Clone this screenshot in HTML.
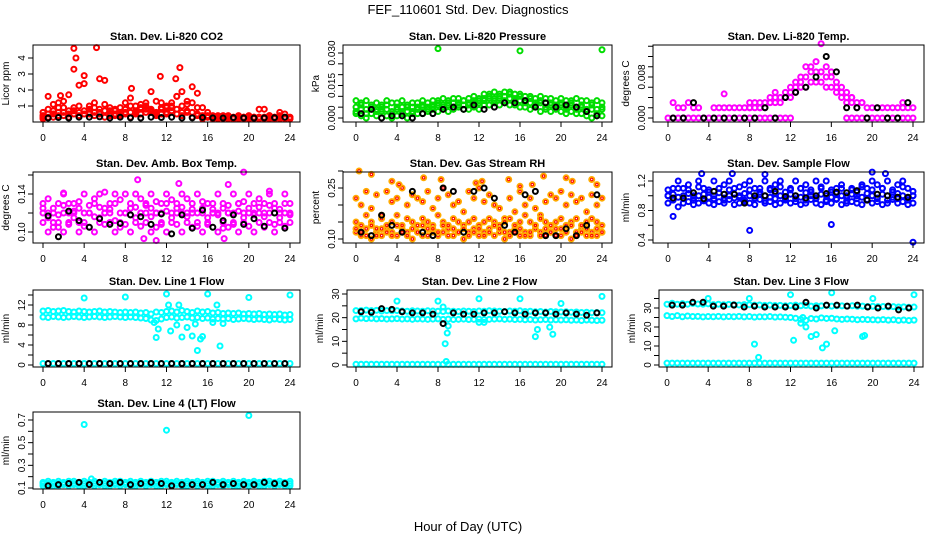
<!DOCTYPE html>
<html><head><meta charset="utf-8"><style>
body{margin:0;background:#fff;}
svg{display:block;font-family:"Liberation Sans",sans-serif;}
</style></head><body>
<svg id="chart" width="936" height="540" viewBox="0 0 936 540">
<rect x="0" y="0" width="936" height="540" fill="#fff"/>
<text x="468" y="14" font-size="13" text-anchor="middle">FEF_110601  Std. Dev. Diagnostics</text>
<text x="468" y="531" font-size="13" text-anchor="middle">Hour of Day (UTC)</text>
</svg>
<script>
const hours=[0,0.5,1,1.5,2,2.5,3,3.5,4,4.5,5,5.5,6,6.5,7,7.5,8,8.5,9,9.5,10,10.5,11,11.5,12,12.5,13,13.5,14,14.5,15,15.5,16,16.5,17,17.5,18,18.5,19,19.5,20,20.5,21,21.5,22,22.5,23,23.5,24];
const blackHours=[0.5,1.5,2.5,3.5,4.5,5.5,6.5,7.5,8.5,9.5,10.5,11.5,12.5,13.5,14.5,15.5,16.5,17.5,18.5,19.5,20.5,21.5,22.5,23.5];
const xTicks=[0,4,8,12,16,20,24];

// Panel 1 CO2
const co2A=[0.4,1.6,0.7,1.2,1.3,1.7,0.9,2.3,2.4,1.0,1.2,2.7,0.7,0.9,0.8,0.6,1.2,1.5,1.0,1.1,0.8,1.9,0.6,0.9,1.0,1.2,1.6,1.0,1.3,1.2,1.8,0.9,0.6,0.4,0.4,0.3,0.4,0.3,0.4,0.3,0.4,0.3,0.3,0.8,0.4,0.3,0.6,0.5,0.3];
const co2B=[0.3,0.3,0.5,0.6,0.4,0.5,3.3,0.6,2.9,0.5,0.6,0.8,2.6,0.4,0.5,0.5,0.8,0.6,0.7,0.5,0.6,0.8,0.5,1.2,0.9,0.9,1.6,1.9,0.7,2.2,0.5,0.3,0.3,0.3,0.2,0.3,0.3,0.2,0.3,0.3,0.2,0.3,0.3,0.2,0.3,0.3,0.2,0.3,0.2];
const co2C=[0.2,0.5,0.3,0.9,0.6,0.3,0.7,0.4,0.5,0.8,0.4,0.6,0.3,0.5,0.7,0.4,0.5,0.3,0.6,0.8,1.2,0.6,0.4,0.5,0.6,0.7,0.5,0.4,0.6,0.3,0.4,0.2,0.3,0.2,0.3,0.2,0.3,0.2,0.2,0.3,0.2,0.3,0.2,0.3,0.2,0.3,0.4,0.2,0.3];
const co2D=[0.6,0.8,1.1,0.4,0.9,0.7,0.5,1.0,0.7,0.6,0.9,0.5,1.1,0.7,0.4,0.9,0.6,1.0,0.5,0.9,1.0,0.7,1.3,0.8,0.5,1.0,0.8,0.6,1.1,0.6,0.9,0.4,0.4,0.3,0.3,0.4,0.2,0.3,0.3,0.2,0.3,0.2,0.3,0.3,0.4,0.2,0.3,0.3,0.2];
const co2OutX=[3,3.2,5.2,11.4,12.9,13.3,1.7,8.6,21];
const co2OutY=[4.6,4.0,4.65,2.85,2.7,3.4,1.65,2.1,0.8];
const co2Black=[0.25,0.28,0.25,0.3,0.3,0.32,0.25,0.3,0.26,0.25,0.3,0.28,0.3,0.25,0.26,0.28,0.26,0.25,0.27,0.26,0.25,0.26,0.27,0.3];
// Panel 2 Pressure
const presA=[0.008,0.007,0.008,0.006,0.007,0.006,0.008,0.007,0.007,0.008,0.006,0.007,0.007,0.008,0.007,0.008,0.008,0.009,0.008,0.009,0.009,0.008,0.009,0.010,0.009,0.011,0.011,0.012,0.011,0.012,0.012,0.011,0.011,0.010,0.010,0.009,0.010,0.009,0.009,0.008,0.009,0.008,0.008,0.009,0.008,0.008,0.007,0.008,0.007];
const presB=[0.002,0.001,0.000,0.002,0.001,0.003,0.001,0.000,0.001,0.002,0.000,0.003,0.002,0.002,0.003,0.004,0.003,0.004,0.003,0.004,0.005,0.004,0.004,0.005,0.004,0.006,0.006,0.007,0.006,0.007,0.006,0.006,0.005,0.005,0.004,0.005,0.003,0.004,0.003,0.004,0.003,0.002,0.003,0.002,0.002,0.001,0.000,0.001,0.001];
const presC=[0.005,0.004,0.004,0.004,0.004,0.005,0.004,0.003,0.004,0.005,0.003,0.005,0.005,0.005,0.005,0.006,0.006,0.006,0.006,0.007,0.007,0.006,0.007,0.008,0.007,0.009,0.009,0.009,0.009,0.010,0.009,0.009,0.008,0.008,0.007,0.007,0.007,0.007,0.006,0.006,0.006,0.005,0.006,0.005,0.005,0.004,0.004,0.004,0.004];
const presD=[0.003,0.006,0.002,0.005,0.003,0.004,0.006,0.002,0.005,0.003,0.005,0.002,0.004,0.006,0.004,0.005,0.007,0.005,0.007,0.005,0.006,0.008,0.006,0.007,0.008,0.008,0.010,0.008,0.010,0.008,0.011,0.008,0.010,0.007,0.009,0.006,0.008,0.005,0.007,0.005,0.007,0.004,0.007,0.004,0.006,0.003,0.006,0.002,0.005];
const presOutX=[8,16,24];
const presOutY=[0.032,0.031,0.0315];
const presBlack=[0.002,0.004,0.000,0.001,0.001,0.000,0.002,0.002,0.004,0.005,0.004,0.006,0.004,0.005,0.007,0.007,0.008,0.005,0.007,0.005,0.006,0.005,0.003,0.001];
// Panel 3 Li temp
const ltA=[0,0,0,0,0,0,0,0,0,0,0,0,0,0,0,0,0,0,0,0,0,0,0,0,0,null,null,null,null,null,null,null,null,null,null,0,0,0,0,0,0,0,0,0,0,0,0,0,0];
const ltB=[null,0.003,0.002,0.002,0.003,0.002,0.002,null,null,0.002,0.002,0.002,0.002,0.002,0.002,0.002,0.002,0.002,0.002,0.002,0.003,0.003,0.004,0.004,0.005,0.006,0.007,0.008,0.009,0.009,0.009,0.008,0.008,0.006,0.005,0.004,0.004,0.003,0.003,0.002,0.002,0.002,0.002,0.002,0.002,0.002,0.002,0.002,0.002];
const ltC=[null,null,null,null,null,null,null,null,null,null,null,null,null,null,null,null,0.003,null,0.003,null,0.004,0.005,0.004,0.005,0.006,0.007,0.008,0.010,0.010,0.011,0.009,0.010,0.009,0.007,0.006,0.005,0.004,null,0.003,null,null,null,null,null,null,null,0.003,null,null];
const ltD=[null,null,null,null,null,null,null,null,null,null,null,null,null,null,null,null,0.002,0.003,0.002,0.003,0.003,0.004,0.003,0.004,0.004,0.005,0.006,0.006,0.007,0.007,0.007,0.006,0.006,0.005,0.004,0.003,0.003,0.002,null,null,null,null,null,null,null,null,null,null,null];
const ltOutX=[15,5.5];
const ltOutY=[0.0145,0.0047];
const ltBlack=[0,0,0.003,0,0,0,0,0,0,0.002,0,0.004,0.005,0.006,0.008,0.012,0.009,0.002,0.002,0,0.002,0,0,0.003];
// Panel 4 Amb box temp
const abA=[0.13,0.12,0.11,0.13,0.14,0.12,0.13,0.11,0.14,0.12,0.13,0.14,0.12,0.13,0.14,0.12,0.14,0.13,0.14,0.12,0.13,0.14,0.12,0.13,0.14,0.12,0.13,0.14,0.12,0.13,0.14,0.12,0.13,0.12,0.14,0.13,0.12,0.14,0.13,0.12,0.14,0.13,0.12,0.13,0.14,0.13,0.12,0.14,0.13];
const abB=[0.11,0.10,0.12,0.11,0.10,0.11,0.12,0.10,0.11,0.12,0.10,0.11,0.12,0.11,0.10,0.11,0.12,0.10,0.11,0.12,0.11,0.10,0.12,0.11,0.10,0.11,0.12,0.10,0.11,0.12,0.11,0.10,0.11,0.12,0.10,0.11,0.12,0.11,0.10,0.11,0.12,0.10,0.11,0.12,0.11,0.10,0.11,0.12,0.11];
const abC=[0.12,0.115,0.125,0.105,0.12,0.13,0.115,0.125,0.12,0.105,0.135,0.115,0.125,0.12,0.13,0.105,0.12,0.125,0.115,0.135,0.12,0.125,0.105,0.12,0.13,0.115,0.125,0.12,0.135,0.105,0.12,0.125,0.115,0.13,0.12,0.125,0.105,0.12,0.13,0.115,0.125,0.12,0.135,0.105,0.12,0.125,0.115,0.13,0.12];
const abD=[0.125,0.135,0.105,0.118,0.128,0.108,0.122,0.132,0.106,0.128,0.116,0.126,0.108,0.124,0.112,0.134,0.108,0.118,0.126,0.106,0.128,0.116,0.132,0.108,0.122,0.134,0.108,0.126,0.116,0.124,0.106,0.132,0.108,0.124,0.118,0.104,0.128,0.108,0.122,0.132,0.106,0.118,0.126,0.116,0.128,0.108,0.124,0.106,0.118];
const abOutX=[9.2,13.2,19.5,11,9.8,17.6,2,6,18,22];
const abOutY=[0.155,0.151,0.163,0.091,0.093,0.093,0.141,0.142,0.15,0.143];
const abBlack=[0.117,0.095,0.122,0.112,0.105,0.114,0.108,0.109,0.118,0.116,0.108,0.119,0.098,0.118,0.104,0.123,0.105,0.112,0.118,0.108,0.114,0.106,0.12,0.104];
// Panel 5 RH
const rhA=[0.12,0.11,0.13,0.10,0.12,0.11,0.13,0.12,0.11,0.13,0.12,0.10,0.12,0.11,0.13,0.12,0.11,0.12,0.13,0.11,0.12,0.10,0.12,0.13,0.11,0.12,0.13,0.11,0.12,0.10,0.12,0.13,0.11,0.12,0.11,0.13,0.12,0.11,0.12,0.13,0.11,0.12,0.10,0.12,0.13,0.11,0.12,0.11,0.12];
const rhB=[0.22,0.20,0.24,0.19,0.23,0.17,0.24,0.21,0.22,0.25,0.20,0.23,0.22,0.21,0.24,0.19,0.22,0.25,0.23,0.20,0.21,0.18,0.24,0.22,0.25,0.21,0.23,0.20,0.19,0.16,0.22,0.18,0.24,0.20,0.22,0.19,0.17,0.21,0.23,0.22,0.24,0.20,0.23,0.21,0.22,0.18,0.23,0.20,0.22];
const rhC=[0.15,0.14,0.17,0.15,0.13,0.16,0.14,0.15,0.17,0.14,0.16,0.15,0.14,0.16,0.15,0.14,0.17,0.15,0.14,0.16,0.15,0.14,0.15,0.16,0.14,0.15,0.16,0.15,0.14,0.15,0.16,0.14,0.15,0.17,0.15,0.14,0.16,0.15,0.14,0.15,0.16,0.14,0.15,0.16,0.14,0.15,0.16,0.15,0.14];
const rhD=[0.13,0.12,0.11,0.14,0.11,0.13,0.12,0.11,0.14,0.12,0.11,0.13,0.12,0.14,0.11,0.13,0.12,0.14,0.11,0.13,0.12,0.13,0.11,0.12,0.13,0.11,0.12,0.14,0.13,0.12,0.11,0.12,0.13,0.11,0.12,0.14,0.11,0.13,0.12,0.11,0.13,0.12,0.14,0.11,0.12,0.13,0.11,0.13,0.12];
const rhOutX=[0.3,1.5,3.5,4.2,6.6,8.3,11.7,12.3,14.9,16,17.2,18.3,20.5,21.1,23,23.5];
const rhOutY=[0.30,0.29,0.27,0.26,0.28,0.275,0.265,0.27,0.275,0.255,0.26,0.285,0.28,0.27,0.275,0.26];
const rhBlack=[0.12,0.11,0.17,0.14,0.12,0.24,0.12,0.11,0.25,0.24,0.12,0.24,0.25,0.22,0.14,0.12,0.23,0.24,0.11,0.11,0.13,0.11,0.14,0.23];
// Panel 6 Sample flow
const sfA=[1.0,1.1,1.2,1.1,1.15,1.0,1.2,1.1,1.05,1.2,1.1,1.15,1.2,1.1,1.0,1.15,1.2,1.1,1.05,1.2,1.1,1.15,1.2,1.05,1.1,1.2,1.1,1.15,1.05,1.2,1.1,1.2,1.05,1.1,1.15,1.0,1.1,1.05,1.15,1.1,1.2,1.15,1.1,1.2,1.05,1.15,1.2,1.1,1.0];
const sfB=[0.9,0.95,0.85,0.9,0.92,0.88,0.9,0.95,0.9,0.88,0.92,0.9,0.95,0.88,0.9,0.92,0.9,0.88,0.95,0.9,0.92,0.88,0.9,0.95,0.9,0.92,0.88,0.9,0.95,0.9,0.88,0.92,0.9,0.95,0.88,0.9,0.92,0.9,0.88,0.95,0.9,0.92,0.88,0.9,0.95,0.9,0.92,0.88,0.9];
const sfC=[1.0,1.02,0.98,1.0,1.03,0.97,1.0,1.02,0.98,1.0,1.04,0.97,1.0,1.02,0.98,1.03,1.0,0.97,1.02,1.0,0.98,1.03,1.0,0.97,1.02,1.0,0.98,1.04,1.0,0.97,1.02,1.0,0.98,1.03,1.0,0.97,1.02,1.0,0.98,1.03,1.0,0.97,1.02,1.0,0.98,1.03,1.0,0.97,1.0];
const sfD=[1.08,0.94,1.1,0.96,1.08,0.94,1.12,0.93,1.08,0.96,1.1,0.94,1.08,0.97,1.12,0.94,1.08,0.96,1.1,0.93,1.08,0.96,1.12,0.94,1.08,0.96,1.1,0.94,1.08,0.96,1.12,0.94,1.08,0.96,1.1,0.93,1.08,0.96,1.12,0.94,1.08,0.96,1.1,0.94,1.08,0.96,1.12,0.94,1.06];
const sfOutX=[0.5,8,16,24,3.3,6.3,9.5,20,21.3];
const sfOutY=[0.72,0.53,0.61,0.37,1.3,1.3,1.29,1.32,1.3];
const sfBlack=[0.97,0.97,1.04,0.96,1.06,1.02,1.02,0.9,1.0,1.0,1.06,0.99,1.0,0.97,1.0,1.03,1.05,1.04,1.07,0.94,1.02,1.0,0.98,0.98];
// Panel 7 Line 1
const l1A=[10.8,10.9,10.7,10.8,10.9,10.7,10.6,10.8,10.7,10.6,10.7,10.8,10.6,10.7,10.6,10.5,10.6,10.5,10.6,10.4,10.5,10.2,10.6,10.5,10.7,10.8,10.6,10.9,10.7,10.5,10.8,10.6,10.7,10.4,10.5,10.3,10.4,10.3,10.4,10.2,10.3,10.2,10.3,10.1,10.2,10.1,10.2,10.0,10.1];
const l1B=[9.6,9.5,9.7,9.6,9.5,9.6,9.7,9.6,9.5,9.6,9.7,9.6,9.5,9.6,9.7,9.6,9.5,9.6,9.5,9.4,9.3,9.0,8.9,9.2,9.5,9.6,9.4,9.5,9.6,9.4,9.5,9.3,9.4,9.2,9.3,9.2,9.3,9.1,9.2,9.3,9.2,9.1,9.2,9.1,9.0,9.2,9.1,9.0,9.1];
const l1C=[0.3,0.3,0.3,0.3,0.3,0.3,0.3,0.3,0.3,0.3,0.3,0.3,0.3,0.3,0.3,0.3,0.3,0.3,0.3,0.3,0.3,0.3,0.3,0.3,0.3,0.3,0.3,0.3,0.3,0.3,0.3,0.3,0.3,0.3,0.3,0.3,0.3,0.3,0.3,0.3,0.3,0.3,0.3,0.3,0.3,0.3,0.3,0.3,0.3];
const l1OutX=[4,8,12,16,20,24,10.8,11,11.2,12.4,13,13.5,14,14.5,15,15.3,15.5,16.5,17.2,17.5,12.2,13.2,14.8,16.9];
const l1OutY=[13.4,13.6,14.2,14.2,13.5,14.0,8.5,5.5,7.2,6.8,8.0,5.6,7.5,5.8,2.9,5.2,5.7,8.5,3.8,8.3,12.0,12.0,8.2,12.0];
const l1Black=[0.3,0.3,0.3,0.3,0.3,0.3,0.3,0.3,0.3,0.3,0.3,0.3,0.3,0.3,0.3,0.3,0.3,0.3,0.3,0.3,0.3,0.3,0.3,0.3];
// Panel 8 Line 2
const l2A=[23,23,23.2,23,23.1,22.8,23,22.9,23,22.8,22.7,22.9,22.8,22.7,22.9,22.8,22.7,22.6,22.8,22.7,22.6,22.8,22.7,22.6,22.8,22.7,22.9,22.8,22.7,22.6,22.8,22.7,22.9,22.6,22.7,22.5,22.6,22.4,22.6,22.5,22.4,22.5,22.3,22.4,22.2,22.3,22.1,22.2,22.1];
const l2B=[19.5,19.8,19.6,19.7,19.5,19.6,19.4,19.5,19.6,19.4,19.5,19.3,19.5,19.4,19.3,19.4,19.5,19.3,19.4,19.2,19.3,19.4,19.2,19.3,19.4,19.2,19.3,19.4,19.5,19.3,19.4,19.2,19.3,19.1,19.2,19.0,19.1,19.2,19.0,19.1,19.0,19.1,18.9,19.0,18.8,19.0,18.9,18.8,18.9];
const l2C=[0.3,0.3,0.3,0.3,0.3,0.3,0.3,0.3,0.3,0.3,0.3,0.3,0.3,0.3,0.3,0.3,0.3,0.3,0.3,0.3,0.3,0.3,0.3,0.3,0.3,0.3,0.3,0.3,0.3,0.3,0.3,0.3,0.3,0.3,0.3,0.3,0.3,0.3,0.3,0.3,0.3,0.3,0.3,0.3,0.3,0.3,0.3,0.3,0.3];
const l2OutX=[4,8,12,16,20,24,8.5,8.7,8.9,9.0,12,12.5,17.5,17.7,18.9,19.2,8.8];
const l2OutY=[27,27,28,28,26,29,24.5,9,13.5,16.5,18,18,12,15,16,13,1.5];
const l2Black=[22.5,22.3,23.8,23.5,22.5,22,22,21.5,17.5,22,21.5,21.5,22,22,22.5,22,21.5,22,22,21.5,22,21.5,21,22];
// Panel 9 Line 3
const l3A=[32,32.5,32,32.3,32,32.4,32.1,32,32.2,31.8,32,31.7,31.9,31.8,31.6,31.8,31.7,31.5,31.6,31.4,31.5,31.3,31.4,31.2,31.3,31.5,31.2,31.3,31.0,31.2,31.1,31.3,31.0,31.2,31.1,31.0,31.2,30.9,31.0,30.8,30.9,30.7,30.8,30.6,30.7,30.5,30.6,30.4,30.5];
const l3B=[26,25.5,26,25.4,25.8,25.5,25.6,25.3,25.5,25.4,25.6,25.3,25.5,25.4,25.6,25.3,25.5,25.2,25.4,25.3,25.5,25.2,25.3,25.1,25.0,24.6,24.0,23.5,24.5,24.2,24.8,24.5,24.6,24.2,24.0,24.2,24.1,23.8,24.0,23.9,23.8,23.7,23.9,23.6,23.8,23.5,23.7,23.4,23.6];
const l3C=[1,1,1,1,1,1,1,1,1,1,1,1,1,1,1,1,1,1,1,1,1,1,1,1,1,1,1,1,1,1,1,1,1,1,1,1,1,1,1,1,1,1,1,1,1,1,1,1,1];
const l3OutX=[4,8,12,16,20,24,8.5,8.9,12.3,13.5,14,14.5,15.1,15.5,16.3,19,19.2,13,13.2];
const l3OutY=[35,35,37,38,35,37,11,4,13,20,15,16,9,11,18,15,15.5,22,25];
const l3Black=[31.5,31.5,33,33,31,31,31.5,30.5,31,30.5,30.5,30.5,30.5,33,30,31.5,31.5,31,31.5,30.5,30,31,29,30];
// Panel 10 Line 4
const l4A=[0.15,0.16,0.15,0.16,0.15,0.16,0.16,0.15,0.16,0.15,0.16,0.15,0.16,0.15,0.16,0.16,0.15,0.16,0.15,0.16,0.15,0.16,0.15,0.16,0.16,0.15,0.16,0.15,0.16,0.15,0.16,0.15,0.16,0.16,0.15,0.16,0.15,0.16,0.15,0.16,0.15,0.16,0.15,0.16,0.16,0.15,0.16,0.15,0.16];
const l4B=[0.12,0.13,0.12,0.12,0.13,0.12,0.13,0.12,0.12,0.13,0.12,0.13,0.12,0.12,0.13,0.12,0.13,0.12,0.12,0.13,0.12,0.13,0.12,0.12,0.13,0.12,0.13,0.12,0.12,0.13,0.12,0.13,0.12,0.12,0.13,0.12,0.13,0.12,0.12,0.13,0.12,0.13,0.12,0.12,0.13,0.12,0.13,0.12,0.12];
const l4C=[0.14,0.14,0.14,0.14,0.14,0.14,0.14,0.14,0.14,0.14,0.14,0.14,0.14,0.14,0.14,0.14,0.14,0.14,0.14,0.14,0.14,0.14,0.14,0.14,0.14,0.14,0.14,0.14,0.14,0.14,0.14,0.14,0.14,0.14,0.14,0.14,0.14,0.14,0.14,0.14,0.14,0.14,0.14,0.14,0.14,0.14,0.14,0.14,0.14];
const l4OutX=[4,12,20,4.7];
const l4OutY=[0.66,0.61,0.74,0.18];
const l4Black=[0.12,0.13,0.14,0.15,0.13,0.15,0.14,0.15,0.13,0.14,0.15,0.14,0.12,0.13,0.13,0.13,0.15,0.13,0.14,0.13,0.13,0.15,0.14,0.14];

const NS='http://www.w3.org/2000/svg';
const svg=document.getElementById('chart');
function mk(tag,attrs,parent){const e=document.createElementNS(NS,tag);for(const k in attrs)e.setAttribute(k,attrs[k]);(parent||svg).appendChild(e);return e;}

const panels=[
 {id:'co2',title:'Stan. Dev. Li-820 CO2',ylab:'Licor ppm',col:'#ff0000',box:[33,45,300,122],x0:43,x24:290,va:0,pa:122,vb:4,pb:58,ticks:[1,2,3,4],labels:['1','2','3','4'],main:[co2A,co2B,co2C,co2D],ox:co2OutX,oy:co2OutY,blk:co2Black},
 {id:'pressure',title:'Stan. Dev. Li-820 Pressure',ylab:'kPa',col:'#00dd00',box:[343,45,612,122],x0:356,x24:602,va:0,pa:118,vb:0.03,pb:53,ticks:[0,0.005,0.01,0.015,0.02,0.025,0.03],labels:['0.000','','','0.015','','','0.030'],main:[presA,presB,presC,presD],ox:presOutX,oy:presOutY,blk:presBlack},
 {id:'li-temp',title:'Stan. Dev. Li-820 Temp.',ylab:'degrees C',col:'#ff00ff',box:[653,45,924,122],x0:668,x24:913,va:0,pa:118,vb:0.008,pb:77,ticks:[0,0.002,0.004,0.006,0.008,0.010,0.012,0.014],labels:['0.000','','','','0.008','','',''],main:[ltA,ltB,ltC,ltD],ox:ltOutX,oy:ltOutY,blk:ltBlack},
 {id:'amb-box-temp',title:'Stan. Dev. Amb. Box Temp.',ylab:'degrees C',col:'#ff00ff',box:[33,172,300,243],x0:43,x24:290,va:0.10,pa:232,vb:0.14,pb:194,ticks:[0.10,0.12,0.14,0.16],labels:['0.10','','0.14',''],main:[abA,abB,abC,abD],ox:abOutX,oy:abOutY,blk:abBlack},
 {id:'gas-rh',title:'Stan. Dev. Gas Stream RH',ylab:'percent',col:'#ffaa00',inner:'#ff0000',box:[343,172,612,243],x0:356,x24:602,va:0.10,pa:239,vb:0.25,pb:188,ticks:[0.10,0.15,0.20,0.25,0.30],labels:['0.10','','','0.25',''],main:[rhA,rhB,rhC,rhD],ox:rhOutX,oy:rhOutY,blk:rhBlack},
 {id:'sample-flow',title:'Stan. Dev. Sample Flow',ylab:'ml/min',col:'#0000ff',box:[653,172,924,243],x0:668,x24:913,va:0.4,pa:240,vb:1.2,pb:181,ticks:[0.4,0.6,0.8,1.0,1.2],labels:['0.4','','0.8','','1.2'],main:[sfA,sfB,sfC,sfD],ox:sfOutX,oy:sfOutY,blk:sfBlack},
 {id:'line1-flow',title:'Stan. Dev. Line 1 Flow',ylab:'ml/min',col:'#00ffff',box:[33,290,300,367],x0:43,x24:290,va:0,pa:365,vb:12,pb:305,ticks:[0,2,4,6,8,10,12,14],labels:['0','','4','','8','','12',''],main:[l1A,l1B,l1C],ox:l1OutX,oy:l1OutY,blk:l1Black},
 {id:'line2-flow',title:'Stan. Dev. Line 2 Flow',ylab:'ml/min',col:'#00ffff',box:[347,290,612,367],x0:356,x24:602,va:0,pa:365,vb:30,pb:294,ticks:[0,5,10,15,20,25,30],labels:['0','','10','','20','','30'],main:[l2A,l2B,l2C],ox:l2OutX,oy:l2OutY,blk:l2Black},
 {id:'line3-flow',title:'Stan. Dev. Line 3 Flow',ylab:'ml/min',col:'#00ffff',box:[659,290,923,367],x0:667,x24:914,va:0,pa:365,vb:30,pb:308,ticks:[0,5,10,15,20,25,30,35],labels:['0','','10','','20','','30',''],main:[l3A,l3B,l3C],ox:l3OutX,oy:l3OutY,blk:l3Black},
 {id:'line4-flow',title:'Stan. Dev. Line 4 (LT) Flow',ylab:'ml/min',col:'#00ffff',box:[33,412,300,489],x0:43,x24:290,va:0.1,pa:488,vb:0.7,pb:420,ticks:[0.1,0.2,0.3,0.4,0.5,0.6,0.7],labels:['0.1','','0.3','','0.5','','0.7'],main:[l4A,l4B,l4C],ox:l4OutX,oy:l4OutY,blk:l4Black}
];

panels.forEach(p=>{
  const g=mk('g',{});
  
  
  const [L,T,R,B]=p.box;
  const xs=h=>p.x0+(p.x24-p.x0)*h/24;
  const ys=v=>p.pa+(p.pb-p.pa)*(v-p.va)/(p.vb-p.va);
  const t=mk('text',{x:(L+R)/2,y:T-5,'font-size':11,'font-weight':'bold','text-anchor':'middle'},g);
  t.textContent=p.title;
  
  
  const yl=mk('text',{x:0,y:0,'font-size':10,'text-anchor':'middle',transform:`translate(${L-24},${(T+B)/2}) rotate(-90)`},g);
  yl.textContent=p.ylab;
  
  
  const pg=mk('g',{fill:'none','stroke-width':2},g);
  
  
  let innerCol=p.inner;
  const dot=(x,y,c)=>{if(y===null||y===undefined)return;const cy=ys(y);const cx=xs(x);
    const c1=mk('circle',{cx:cx,cy:cy,r:2.5,stroke:c},pg);
    
    
    if(innerCol){const c2=mk('circle',{cx:cx,cy:cy,r:1.2,stroke:innerCol,'stroke-width':1},pg);
      
      }};
  p.main.forEach(arr=>arr.forEach((v,i)=>dot(hours[i],v,p.col)));
  p.ox.forEach((x,i)=>dot(x,p.oy[i],p.col));
  innerCol=null;
  p.blk.forEach((v,i)=>dot(blackHours[i],v,'#000'));
  const bx=mk('rect',{x:L,y:T,width:R-L,height:B-T,fill:'none',stroke:'#000','stroke-width':1},g);
  
  
  const xa=mk('g',{},g);
  
  
  mk('line',{x1:xs(0),x2:xs(24),y1:B,y2:B,stroke:'#000'},xa);
  xTicks.forEach(h=>{mk('line',{x1:xs(h),x2:xs(h),y1:B,y2:B+5,stroke:'#000'},xa);
    const tl=mk('text',{x:xs(h),y:B+19,'font-size':10,'text-anchor':'middle'},xa);tl.textContent=h;
    
    });
  const ya=mk('g',{},g);
  
  
  mk('line',{x1:L,x2:L,y1:ys(p.ticks[0]),y2:ys(p.ticks[p.ticks.length-1]),stroke:'#000'},ya);
  p.ticks.forEach((v,i)=>{const y=ys(v);mk('line',{x1:L-5,x2:L,y1:y,y2:y,stroke:'#000'},ya);
    if(p.labels[i]){const tl=mk('text',{x:0,y:0,'font-size':10,'text-anchor':'middle',transform:`translate(${L-8},${y}) rotate(-90)`},ya);tl.textContent=p.labels[i];
      
      }});
});
</script>
</body></html>
